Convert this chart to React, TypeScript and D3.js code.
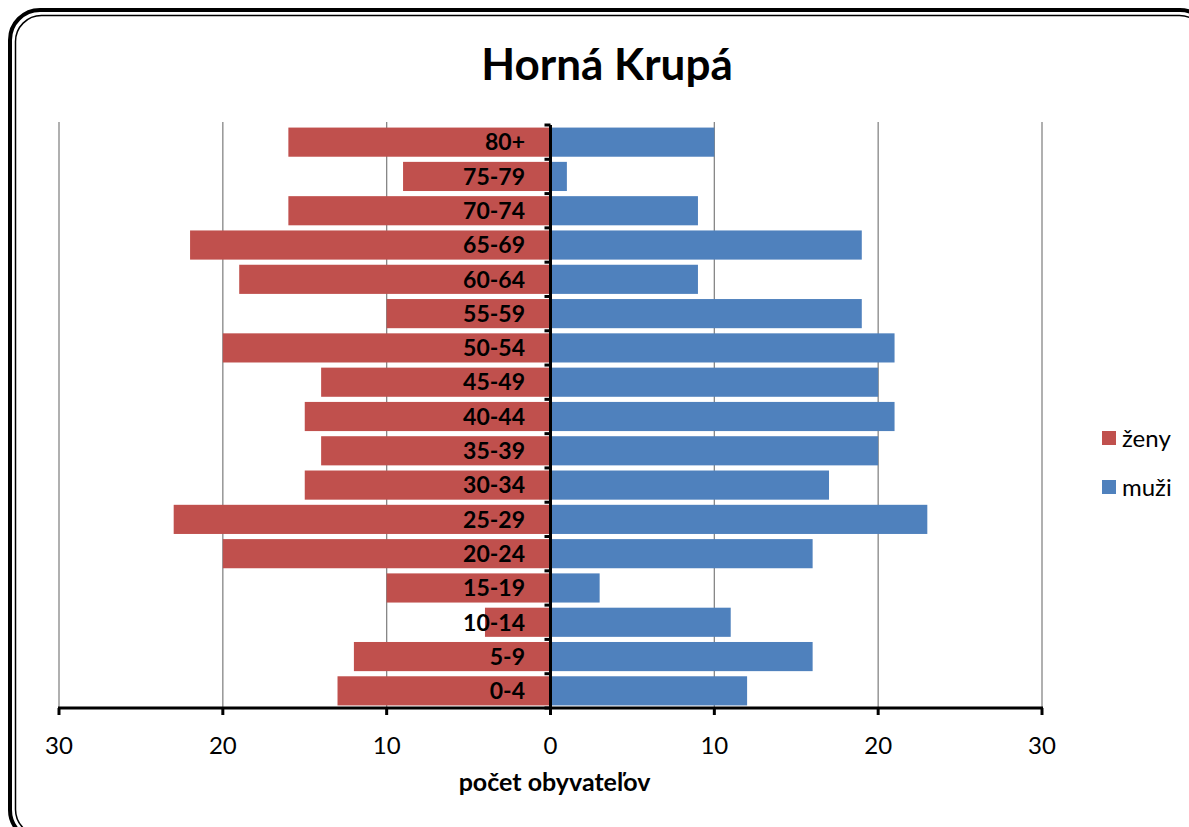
import React, { useEffect } from 'react';
import * as d3 from 'd3';

// age groups, top to bottom
const ageGroups = ['80+', '75-79', '70-74', '65-69', '60-64', '55-59', '50-54', '45-49', '40-44', '35-39', '30-34', '25-29', '20-24', '15-19', '10-14', '5-9', '0-4'];
const zeny = [16, 9, 16, 22, 19, 10, 20, 14, 15, 14, 15, 23, 20, 10, 4, 12, 13];
const muzi = [10, 1, 9, 19, 9, 19, 21, 20, 21, 20, 17, 23, 16, 3, 11, 16, 12];
const xTicks = [-30, -20, -10, 0, 10, 20, 30];
const seriesNames = ['ženy', 'muži'];
const seriesColors = ['#C0504D', '#4F81BD'];

const W = 1189;
const H = 827;
const FONT = 'Lato, "Open Sans", sans-serif';

export default function App() {
  useEffect(() => {
    document.body.style.margin = '0';
  }, []);

  const x = d3.scaleLinear().domain([-30, 30]).range([59, 1042]);
  const y = d3.scaleBand().domain(ageGroups).range([125, 708]).paddingInner(0.15).paddingOuter(0.075);
  const plotTop = 125;
  const plotBottom = 708;
  const step = y.step();

  return (
    <svg width={W} height={H} style={{ display: 'block', background: '#fff' }} fontFamily={FONT}>
      {/* chart frame: thick outer line + thin inner line */}
      <rect x={10} y={10} width={1200} height={830} rx={30} ry={30} fill="none" stroke="#000" strokeWidth={4} />
      <rect x={15.5} y={15.5} width={1190} height={820} rx={26} ry={26} fill="none" stroke="#000" strokeWidth={1.5} />

      <text x={607} y={80} textAnchor="middle" fontSize={44} fontWeight="bold" fill="#000">Horná Krupá</text>

      {/* gridlines */}
      {xTicks.filter(t => t !== 0).map(t => (
        <line key={'g' + t} x1={x(t)} x2={x(t)} y1={122} y2={plotBottom} stroke="#868686" strokeWidth={1.3} />
      ))}

      {/* bars */}
      {ageGroups.map((g, i) => (
        <g key={g}>
          <rect x={x(-zeny[i])} y={y(g)} width={x(0) - x(-zeny[i])} height={y.bandwidth()} fill={seriesColors[0]} />
          <rect x={x(0)} y={y(g)} width={x(muzi[i]) - x(0)} height={y.bandwidth()} fill={seriesColors[1]} />
        </g>
      ))}

      {/* category labels */}
      {ageGroups.map(g => (
        <text key={'l' + g} x={525} y={(y(g) as number) + y.bandwidth() / 2} dy="0.36em" textAnchor="end"
          fontSize={23} fontWeight="bold" fill="#000">{g}</text>
      ))}

      {/* vertical axis */}
      <line x1={x(0)} x2={x(0)} y1={plotTop} y2={plotBottom} stroke="#000" strokeWidth={3} />
      {d3.range(ageGroups.length + 1).map(i => (
        <line key={'vt' + i} x1={x(0) - 6} x2={x(0)} y1={plotTop + i * step} y2={plotTop + i * step} stroke="#000" strokeWidth={3} />
      ))}

      {/* horizontal axis */}
      <line x1={x(-30) - 1} x2={x(30) + 1} y1={plotBottom} y2={plotBottom} stroke="#000" strokeWidth={3} />
      {xTicks.map(t => (
        <g key={'t' + t}>
          <line x1={x(t)} x2={x(t)} y1={plotBottom} y2={plotBottom + 7} stroke="#000" strokeWidth={3} />
          <text x={x(t)} y={754} textAnchor="middle" fontSize={24} fill="#000">{Math.abs(t)}</text>
        </g>
      ))}
      <text x={x(0) + 4} y={791} textAnchor="middle" fontSize={25} fontWeight="bold" fill="#000">počet obyvateľov</text>

      {/* legend */}
      {seriesNames.map((s, i) => (
        <g key={s} transform={`translate(1102, ${431 + i * 49})`}>
          <rect x={0} y={0} width={14} height={14} fill={seriesColors[i]} />
          <text x={20} y={7} dy="0.36em" fontSize={24} fill="#000">{s}</text>
        </g>
      ))}
    </svg>
  );
}
